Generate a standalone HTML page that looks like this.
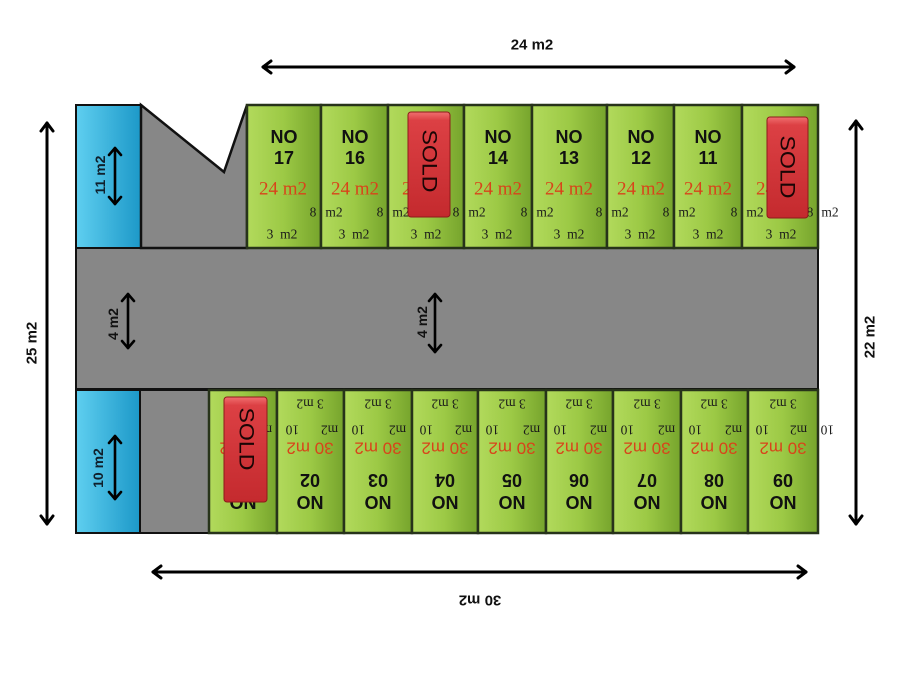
<!DOCTYPE html>
<html><head><meta charset="utf-8"><style>
html,body{margin:0;padding:0;background:#fff;}
svg{display:block;}
.sans{font-family:"Liberation Sans",Arial,sans-serif;}
.serif{font-family:"Liberation Serif","Times New Roman",serif;}
</style></head><body>
<svg width="900" height="675" viewBox="0 0 900 675" xmlns="http://www.w3.org/2000/svg">
<defs>
<linearGradient id="g" x1="0" y1="0" x2="1" y2="0">
<stop offset="0" stop-color="#b2da5c"/><stop offset="0.5" stop-color="#9cc945"/><stop offset="1" stop-color="#76a42c"/>
</linearGradient>
<linearGradient id="b" x1="0" y1="0" x2="1" y2="0">
<stop offset="0" stop-color="#5fcff0"/><stop offset="1" stop-color="#1c98c8"/>
</linearGradient>
<linearGradient id="r" x1="0" y1="0" x2="0" y2="1">
<stop offset="0" stop-color="#f07070"/><stop offset="0.08" stop-color="#dc4044"/><stop offset="1" stop-color="#c42a2e"/>
</linearGradient>
</defs>

<!-- road -->
<rect x="76" y="248" width="742" height="141" fill="#878787" stroke="#111" stroke-width="2"/>
<!-- top-left blue and gray -->
<rect x="76" y="105" width="65" height="143" fill="url(#b)" stroke="#111" stroke-width="2"/>
<polygon points="141,105 224,172 247,105 247,248 141,248" fill="#878787" stroke="#111" stroke-width="2.5" stroke-linejoin="miter"/>
<!-- bottom-left blue and gray -->
<rect x="76" y="390" width="64" height="143" fill="url(#b)" stroke="#111" stroke-width="2"/>
<rect x="140" y="390" width="69" height="143" fill="#878787" stroke="#111" stroke-width="2"/>

<!-- top lots -->
<g stroke="#27331a" stroke-width="2.5" fill="url(#g)">
<rect x="247" y="105" width="74" height="143"/>
<rect x="321" y="105" width="67" height="143"/>
<rect x="388" y="105" width="76" height="143"/>
<rect x="464" y="105" width="68" height="143"/>
<rect x="532" y="105" width="75" height="143"/>
<rect x="607" y="105" width="67" height="143"/>
<rect x="674" y="105" width="68" height="143"/>
<rect x="742" y="105" width="76" height="143"/>
</g>
<!-- bottom lots -->
<g stroke="#27331a" stroke-width="2.5" fill="url(#g)">
<rect x="209" y="390" width="68" height="143"/>
<rect x="277" y="390" width="67" height="143"/>
<rect x="344" y="390" width="68" height="143"/>
<rect x="412" y="390" width="66" height="143"/>
<rect x="478" y="390" width="68" height="143"/>
<rect x="546" y="390" width="67" height="143"/>
<rect x="613" y="390" width="68" height="143"/>
<rect x="681" y="390" width="67" height="143"/>
<rect x="748" y="390" width="70" height="143"/>
</g>

<!-- top lot texts -->
<g class="sans" font-size="18" font-weight="bold" fill="#111" text-anchor="middle" dominant-baseline="central">
<text x="284" y="137">NO</text><text x="284" y="158">17</text>
<text x="355" y="137">NO</text><text x="355" y="158">16</text>
<text x="426" y="137">NO</text><text x="426" y="158">15</text>
<text x="498" y="137">NO</text><text x="498" y="158">14</text>
<text x="569" y="137">NO</text><text x="569" y="158">13</text>
<text x="641" y="137">NO</text><text x="641" y="158">12</text>
<text x="708" y="137">NO</text><text x="708" y="158">11</text>
<text x="780" y="137">NO</text><text x="780" y="158">10</text>
</g>
<g class="serif" font-size="19" fill="#d8441a" text-anchor="middle" dominant-baseline="central">
<text x="283" y="189">24 m2</text>
<text x="355" y="189">24 m2</text>
<text x="426" y="189">24 m2</text>
<text x="498" y="189">24 m2</text>
<text x="569" y="189">24 m2</text>
<text x="641" y="189">24 m2</text>
<text x="708" y="189">24 m2</text>
<text x="780" y="189">24 m2</text>
</g>
<g class="serif" font-size="13.5" fill="#1a1a1a" text-anchor="middle" dominant-baseline="central">
<text x="313" y="212">8</text><text x="380" y="212">8</text><text x="456" y="212">8</text><text x="524" y="212">8</text>
<text x="599" y="212">8</text><text x="666" y="212">8</text><text x="734" y="212">8</text><text x="810" y="212">8</text>
<text x="334" y="212">m2</text><text x="401" y="212">m2</text><text x="477" y="212">m2</text><text x="545" y="212">m2</text>
<text x="620" y="212">m2</text><text x="687" y="212">m2</text><text x="755" y="212">m2</text><text x="830" y="212">m2</text>
<text x="282" y="234">3&#160;&#160;m2</text>
<text x="354" y="234">3&#160;&#160;m2</text>
<text x="426" y="234">3&#160;&#160;m2</text>
<text x="497" y="234">3&#160;&#160;m2</text>
<text x="569" y="234">3&#160;&#160;m2</text>
<text x="640" y="234">3&#160;&#160;m2</text>
<text x="708" y="234">3&#160;&#160;m2</text>
<text x="781" y="234">3&#160;&#160;m2</text>
</g>

<!-- bottom lot texts (upside down) -->
<g class="sans" font-size="18" font-weight="bold" fill="#111" text-anchor="middle" dominant-baseline="central">
<text x="243" y="502" transform="rotate(180 243 502)">NO</text><text x="243" y="480" transform="rotate(180 243 480)">01</text>
<text x="310" y="502" transform="rotate(180 310 502)">NO</text><text x="310" y="480" transform="rotate(180 310 480)">02</text>
<text x="378" y="502" transform="rotate(180 378 502)">NO</text><text x="378" y="480" transform="rotate(180 378 480)">03</text>
<text x="445" y="502" transform="rotate(180 445 502)">NO</text><text x="445" y="480" transform="rotate(180 445 480)">04</text>
<text x="512" y="502" transform="rotate(180 512 502)">NO</text><text x="512" y="480" transform="rotate(180 512 480)">05</text>
<text x="579" y="502" transform="rotate(180 579 502)">NO</text><text x="579" y="480" transform="rotate(180 579 480)">06</text>
<text x="647" y="502" transform="rotate(180 647 502)">NO</text><text x="647" y="480" transform="rotate(180 647 480)">07</text>
<text x="714" y="502" transform="rotate(180 714 502)">NO</text><text x="714" y="480" transform="rotate(180 714 480)">08</text>
<text x="783" y="502" transform="rotate(180 783 502)">NO</text><text x="783" y="480" transform="rotate(180 783 480)">09</text>
</g>
<g class="sans" font-size="17" fill="#d8441a" text-anchor="middle" dominant-baseline="central">
<text x="243" y="448" transform="rotate(180 243 448)">30 m2</text>
<text x="310" y="448" transform="rotate(180 310 448)">30 m2</text>
<text x="378" y="448" transform="rotate(180 378 448)">30 m2</text>
<text x="445" y="448" transform="rotate(180 445 448)">30 m2</text>
<text x="512" y="448" transform="rotate(180 512 448)">30 m2</text>
<text x="579" y="448" transform="rotate(180 579 448)">30 m2</text>
<text x="647" y="448" transform="rotate(180 647 448)">30 m2</text>
<text x="714" y="448" transform="rotate(180 714 448)">30 m2</text>
<text x="783" y="448" transform="rotate(180 783 448)">30 m2</text>
</g>
<g class="serif" font-size="13.5" fill="#1a1a1a" text-anchor="middle" dominant-baseline="central">
<text x="243" y="404" transform="rotate(180 243 404)">3 m2</text>
<text x="310" y="404" transform="rotate(180 310 404)">3 m2</text>
<text x="378" y="404" transform="rotate(180 378 404)">3 m2</text>
<text x="445" y="404" transform="rotate(180 445 404)">3 m2</text>
<text x="512" y="404" transform="rotate(180 512 404)">3 m2</text>
<text x="579" y="404" transform="rotate(180 579 404)">3 m2</text>
<text x="647" y="404" transform="rotate(180 647 404)">3 m2</text>
<text x="714" y="404" transform="rotate(180 714 404)">3 m2</text>
<text x="783" y="404" transform="rotate(180 783 404)">3 m2</text>
<text x="277" y="430" transform="rotate(180 277 430)">10&#160;&#160;&#160;&#160;m2</text>
<text x="343" y="430" transform="rotate(180 343 430)">10&#160;&#160;&#160;&#160;m2</text>
<text x="411" y="430" transform="rotate(180 411 430)">10&#160;&#160;&#160;&#160;m2</text>
<text x="477" y="430" transform="rotate(180 477 430)">10&#160;&#160;&#160;&#160;m2</text>
<text x="545" y="430" transform="rotate(180 545 430)">10&#160;&#160;&#160;&#160;m2</text>
<text x="612" y="430" transform="rotate(180 612 430)">10&#160;&#160;&#160;&#160;m2</text>
<text x="680" y="430" transform="rotate(180 680 430)">10&#160;&#160;&#160;&#160;m2</text>
<text x="747" y="430" transform="rotate(180 747 430)">10&#160;&#160;&#160;&#160;m2</text>
<text x="812" y="430" transform="rotate(180 812 430)">10&#160;&#160;&#160;&#160;m2</text>
</g>

<!-- SOLD stickers -->
<g stroke="#8e1a1a" stroke-width="1" fill="url(#r)">
<rect x="408" y="112" width="42" height="105" rx="3"/>
<rect x="767" y="117" width="41" height="101" rx="3"/>
<rect x="224" y="397" width="43" height="105" rx="3"/>
</g>
<g class="sans" font-size="21" fill="#1a0505" text-anchor="middle" dominant-baseline="central">
<text x="429" y="161" transform="rotate(90 429 161)" textLength="63" lengthAdjust="spacingAndGlyphs">SOLD</text>
<text x="787" y="167" transform="rotate(90 787 167)" textLength="63" lengthAdjust="spacingAndGlyphs">SOLD</text>
<text x="246" y="439" transform="rotate(90 246 439)" textLength="63" lengthAdjust="spacingAndGlyphs">SOLD</text>
</g>

<!-- arrows -->
<g stroke="#000" stroke-width="3" fill="none" stroke-linecap="round" stroke-linejoin="round">
<line x1="263" y1="67" x2="794" y2="67"/>
<polyline points="271,61 263,67 271,73"/><polyline points="786,61 794,67 786,73"/>
<line x1="153" y1="572" x2="806" y2="572"/>
<polyline points="161,566 153,572 161,578"/><polyline points="798,566 806,572 798,578"/>
<line x1="47" y1="123" x2="47" y2="524"/>
<polyline points="41,131 47,123 53,131"/><polyline points="41,516 47,524 53,516"/>
<line x1="856" y1="121" x2="856" y2="524"/>
<polyline points="850,129 856,121 862,129"/><polyline points="850,516 856,524 862,516"/>
</g>
<g stroke="#000" stroke-width="2.6" fill="none" stroke-linecap="round" stroke-linejoin="round">
<line x1="115" y1="148" x2="115" y2="204"/>
<polyline points="109,155 115,148 121,155"/><polyline points="109,197 115,204 121,197"/>
<line x1="115" y1="436" x2="115" y2="499"/>
<polyline points="109,443 115,436 121,443"/><polyline points="109,492 115,499 121,492"/>
<line x1="128" y1="294" x2="128" y2="348"/>
<polyline points="122,301 128,294 134,301"/><polyline points="122,341 128,348 134,341"/>
<line x1="435" y1="294" x2="435" y2="352"/>
<polyline points="429,301 435,294 441,301"/><polyline points="429,345 435,352 441,345"/>
</g>

<!-- dimension labels -->
<g class="sans" font-weight="bold" fill="#111" text-anchor="middle" dominant-baseline="central">
<text x="532" y="45" font-size="15">24 m2</text>
<text x="480" y="600" font-size="15" transform="rotate(180 480 600)">30 m2</text>
<text x="32" y="343" font-size="15" transform="rotate(-90 32 343)">25 m2</text>
<text x="870" y="337" font-size="15" transform="rotate(-90 870 337)">22 m2</text>
<text x="100" y="175" font-size="14" fill="#10202c" transform="rotate(-90 100 175)">11 m2</text>
<text x="98" y="468" font-size="14" fill="#10202c" transform="rotate(-90 98 468)">10 m2</text>
<text x="113" y="324" font-size="14" transform="rotate(-90 113 324)">4 m2</text>
<text x="422" y="322" font-size="14" transform="rotate(-90 422 322)">4 m2</text>
</g>
</svg>
</body></html>
